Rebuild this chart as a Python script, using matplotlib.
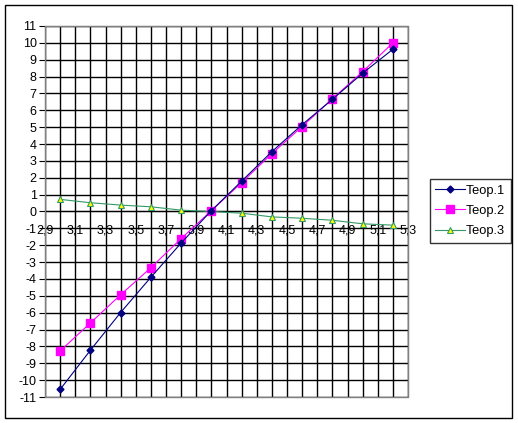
import matplotlib.pyplot as plt
from matplotlib.patches import Rectangle
import numpy as np

plt.rcParams['font.family'] = ['Liberation Sans', 'DejaVu Sans']
plt.rcParams['axes.unicode_minus'] = False

# данные
x = [3.0, 3.2, 3.4, 3.6, 3.8, 4.0, 4.2, 4.4, 4.6, 4.8, 5.0, 5.2]
teop1 = [-10.55, -8.23, -5.99, -3.9, -1.87, 0.05, 1.8, 3.55, 5.15, 6.65, 8.2, 9.62]
teop2 = [-8.27, -6.61, -4.94, -3.33, -1.61, 0.05, 1.71, 3.43, 5.04, 6.68, 8.29, 10.0]
teop3 = [0.72, 0.52, 0.38, 0.28, 0.08, 0.0, -0.1, -0.32, -0.4, -0.52, -0.73, -0.81]
names = ['Теор.1', 'Теор.2', 'Теор.3']
xlabels = ['2,9', '3,1', '3,3', '3,5', '3,7', '3,9', '4,1', '4,3', '4,5', '4,7', '4,9', '5,1', '5,3']

fig = plt.figure(figsize=(5.18, 4.23), dpi=100)
fig.patches.append(Rectangle((5 / 518, 5 / 423), 507 / 518, 413 / 423, transform=fig.transFigure,
                             fill=False, edgecolor='black', linewidth=1.0))

ax = fig.add_axes([45 / 518, 26 / 423, 363 / 518, 371 / 423])

l1, = ax.plot(x, teop1, color='#000080', lw=0.8, marker='D', ms=3.5, mfc='#000080', mec='#000080', zorder=5)
l2, = ax.plot(x, teop2, color='#FF00FF', lw=0.8, marker='s', ms=6, mfc='#FF00FF', mec='#FF00FF', zorder=4)
l3, = ax.plot(x, teop3, color='#339966', lw=0.8, marker='^', ms=5, mfc='#FFFF00', mec='#339966', mew=0.8, zorder=3)

ax.set_xlim(2.9, 5.3)
ax.set_ylim(-11, 11)

ax.set_xticks(np.linspace(2.9, 5.3, 13))
ax.set_xticklabels(xlabels)
ax.set_xticks(np.linspace(2.9, 5.3, 25), minor=True)
ax.set_yticks(range(-11, 12))
ax.tick_params(axis='both', labelsize=9, colors='black')
ax.tick_params(axis='y', length=4, width=0.8, pad=2)
ax.tick_params(axis='x', which='both', length=0, pad=9)

ax.grid(True, which='both', color='black', linewidth=1.0)
ax.set_axisbelow(True)

for s in ['top', 'right', 'left']:
    ax.spines[s].set_color('#808080')
ax.spines['bottom'].set_position(('data', 0))
ax.spines['bottom'].set_color('black')
ax.add_patch(Rectangle((0, 0), 1, 1, transform=ax.transAxes, fill=False,
                       edgecolor='#808080', linewidth=1.0, zorder=6, clip_on=False))

leg = fig.legend([l1, l2, l3], names, loc='center left', bbox_to_anchor=(430 / 518, 1 - 211 / 423),
                 fontsize=9.3, frameon=True, fancybox=False, edgecolor='black',
                 handlelength=2.3, handletextpad=0.1, labelspacing=0.65, borderpad=0.4,
                 borderaxespad=0)
leg.get_frame().set_linewidth(1.0)

fig.savefig('out.png', dpi=100)
